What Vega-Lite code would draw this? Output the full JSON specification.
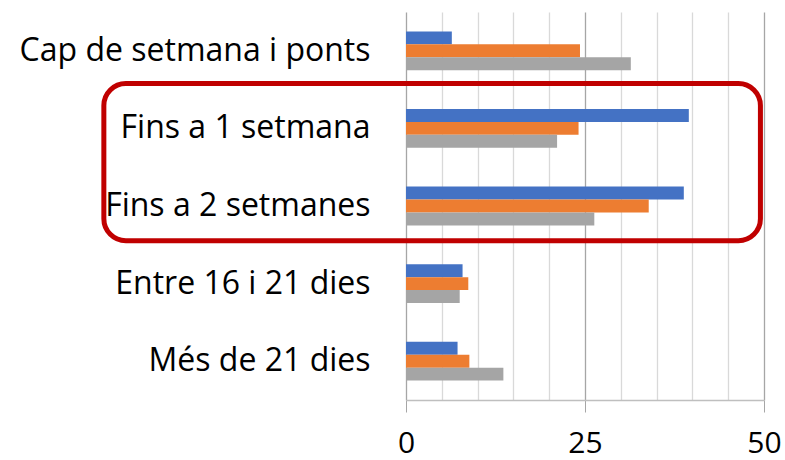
{
  "$schema": "https://vega.github.io/schema/vega-lite/v6.json",
  "autosize": {"type": "none"},
  "padding": {"left": 406, "top": 12, "right": 21, "bottom": 60},
  "width": 358,
  "height": 388,
  "background": "white",
  "config": {"view": {"stroke": null}, "font": "Open Sans"},
  "layer": [
    {
      "data": {
        "values": [
          {"categoria": "Cap de setmana i ponts", "serie": "A", "valor": 6.4},
          {"categoria": "Cap de setmana i ponts", "serie": "B", "valor": 24.3},
          {"categoria": "Cap de setmana i ponts", "serie": "C", "valor": 31.4},
          {"categoria": "Fins a 1 setmana", "serie": "A", "valor": 39.5},
          {"categoria": "Fins a 1 setmana", "serie": "B", "valor": 24.1},
          {"categoria": "Fins a 1 setmana", "serie": "C", "valor": 21.1},
          {"categoria": "Fins a 2 setmanes", "serie": "A", "valor": 38.8},
          {"categoria": "Fins a 2 setmanes", "serie": "B", "valor": 33.9},
          {"categoria": "Fins a 2 setmanes", "serie": "C", "valor": 26.3},
          {"categoria": "Entre 16 i 21 dies", "serie": "A", "valor": 7.9},
          {"categoria": "Entre 16 i 21 dies", "serie": "B", "valor": 8.7},
          {"categoria": "Entre 16 i 21 dies", "serie": "C", "valor": 7.5},
          {"categoria": "Més de 21 dies", "serie": "A", "valor": 7.2},
          {"categoria": "Més de 21 dies", "serie": "B", "valor": 8.85},
          {"categoria": "Més de 21 dies", "serie": "C", "valor": 13.6}
        ]
      },
      "mark": {"type": "bar"},
      "encoding": {
        "y": {
          "field": "categoria",
          "type": "nominal",
          "sort": null,
          "scale": {"paddingInner": 0.5, "paddingOuter": 0.25},
          "axis": {
            "title": null,
            "ticks": false,
            "domain": false,
            "labelPadding": 36,
            "labelFontSize": 32,
            "labelColor": "#000000",
            "labelLimit": 0,
            "zindex": 1
          }
        },
        "yOffset": {"field": "serie", "type": "nominal", "scale": {"paddingInner": 0}},
        "x": {
          "field": "valor",
          "type": "quantitative",
          "scale": {"domain": [0, 50], "nice": false},
          "axis": {
            "title": null,
            "values": [0, 5, 10, 15, 20, 25, 30, 35, 40, 45, 50],
            "labelExpr": "datum.value % 25 === 0 ? datum.label : ''",
            "labelFontSize": 30,
            "labelColor": "#000000",
            "labelPadding": 16,
            "labelFlush": false,
            "tickSize": 12,
            "tickColor": {"condition": {"test": "datum.value % 25 === 0", "value": "#a6a6a6"}, "value": "transparent"},
            "gridColor": {"condition": {"test": "datum.value % 25 === 0", "value": "#a6a6a6"}, "value": "#d9d9d9"},
            "gridWidth": 1.3,
            "domainColor": "#bfbfbf",
            "domainWidth": 1.3
          }
        },
        "color": {
          "field": "serie",
          "type": "nominal",
          "scale": {"domain": ["A", "B", "C"], "range": ["#4472C4", "#ED7D31", "#A5A5A5"]},
          "legend": null
        }
      }
    },
    {
      "data": {"values": [{"x1": -42.2, "x2": 49.5, "y1": 0.923, "y2": 2.948}]},
      "mark": {"type": "rect", "filled": false, "stroke": "#C00000", "strokeWidth": 5, "cornerRadius": 22},
      "encoding": {
        "x": {"field": "x1", "type": "quantitative", "scale": {"domain": [0, 50], "nice": false, "zero": false}, "axis": null},
        "x2": {"field": "x2"},
        "y": {"field": "y1", "type": "quantitative", "scale": {"domain": [0, 5], "nice": false, "reverse": true}, "axis": null},
        "y2": {"field": "y2"}
      }
    }
  ],
  "resolve": {"scale": {"x": "independent", "y": "independent"}}
}
